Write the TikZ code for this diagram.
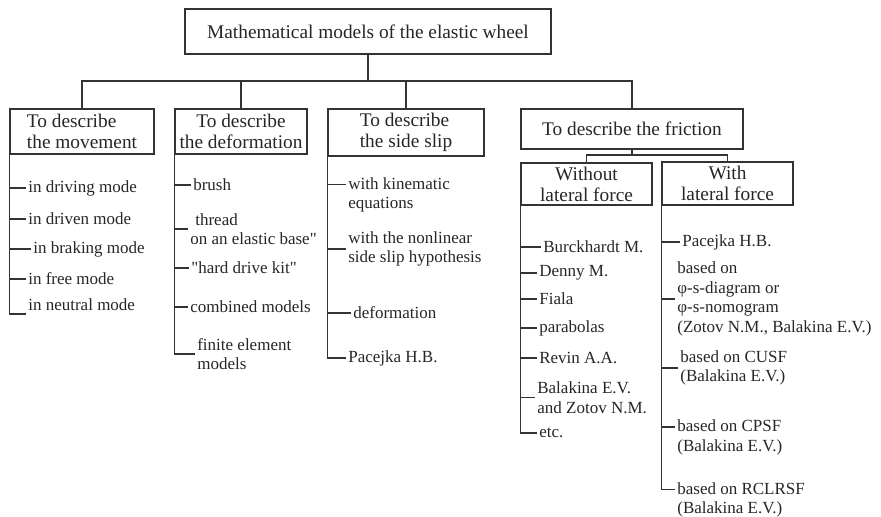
\documentclass[tikz,border=0pt]{standalone}
\usepackage{fontspec}
\setmainfont{Liberation Serif}[Ligatures=TeXOff]
\usetikzlibrary{calc}

\tikzset{
  ln/.style={draw=black!80, line width=0.9pt},
  hdbox/.style={draw=black!80, line width=0.9pt, align=center, inner sep=0pt,
    font=\fontsize{11.6}{12.6}\selectfont},
  itm/.style={anchor=west, align=left, inner sep=1.5pt,
    font=\fontsize{10.2}{11.7}\selectfont}
}

\begin{document}
\begin{tikzpicture}[x=0.6pt, y=-0.6pt, text=black!85]
    \useasboundingbox (0,0) rectangle (881,516);

    % Top box and first level
    \node[hdbox, minimum width=219.6pt, minimum height=27pt] (title) at (368,31.5) {Mathematical models of the elastic wheel};
    \node[hdbox, align=left, minimum width=86.4pt, minimum height=27pt] (move) at (82,131.5) {To describe\\the movement};
    \node[hdbox, minimum width=79.2pt, minimum height=27pt] (deform) at (241,131.5) {To describe\\the deformation};
    \node[hdbox, align=left, minimum width=93.6pt, minimum height=28.2pt] (side) at (406,132.5) {To describe\\the side slip};
    \node[hdbox, minimum width=133.2pt, minimum height=24pt] (fric) at (632,129) {To describe the friction};

    % Friction split
    \node[hdbox, minimum width=78.6pt, minimum height=25.2pt] (without) at (586.5,184) {Without\\lateral force};
    \node[hdbox, minimum width=78.6pt, minimum height=25.8pt] (with) at (727.5,183.5) {With\\lateral force};

    % Tree lines
    \coordinate (jn) at (368,81);
    \draw[ln] (title.south) -- (jn);
    \draw[ln] (move.north) |- (jn) -| (fric.north);
    \draw[ln] (deform.north) -- (deform.north |- jn);
    \draw[ln] (side.north) -- (side.north |- jn);
    \coordinate (fj) at (632,155);
    \draw[ln] (fric.south) -- (fj);
    \draw[ln] (without.north) |- (fj) -| (with.north);

    % Movement
    \node[itm] (m1) at (25.5,188) {in driving mode};
    \node[itm] (m2) at (25.5,219) {in driven mode};
    \node[itm] (m3) at (30.5,249) {in braking mode};
    \node[itm] (m4) at (25.5,279) {in free mode};
    \node[itm] (m5) at (25.5,305) {in neutral mode};
    \draw[ln] (move.south west) |- (m5.south west);
    \foreach \n in {m1,m2,m3,m4}
        \draw[ln] (move.south west |- \n.west) -- (\n.west);

    % Deformation
    \node[itm] (d1) at (190.5,185) {brush};
    \node[itm] (d2) at (187.5,229) {\hspace{3pt}thread\\on an elastic base"};
    \node[itm] (d3) at (188.5,268) {"hard drive kit"};
    \node[itm] (d4) at (187.5,307) {combined models};
    \node[itm] (d5) at (194.5,354) {finite element\\models};
    \draw[ln] (deform.south west) |- (d5.west);
    \foreach \n in {d1,d2,d3,d4}
        \draw[ln] (deform.south west |- \n.west) -- (\n.west);

    % Side slip
    \node[itm] (s1) at (345.5,195) {with kinematic\\equations};
    \node[itm] (s2) at (345.5,249) {with the nonlinear\\side slip hypothesis};
    \node[itm] (s3) at (350.5,313) {deformation};
    \node[itm] (s4) at (345.5,358) {Pacejka H.B.};
    \coordinate (s1t) at ($(s1.north west)+(0,10)$);
    \draw[ln] (side.south west) |- (s4.west);
    \draw[ln] (side.south west |- s1t) -- (s1t);
    \foreach \n in {s2,s3}
        \draw[ln] (side.south west |- \n.west) -- (\n.west);

    % Without lateral force
    \node[itm] (w1) at (540.5,247) {Burckhardt M.};
    \node[itm] (w2) at (536.5,273) {Denny M.};
    \node[itm] (w3) at (536.5,299) {Fiala};
    \node[itm] (w4) at (536.5,328) {parabolas};
    \node[itm] (w5) at (536.5,358) {Revin A.A.};
    \node[itm] (w6) at (534.5,397.5) {Balakina E.V.\\and Zotov N.M.};
    \node[itm] (w7) at (536.5,433) {etc.};
    \draw[ln] (without.south west) |- (w7.west);
    \foreach \n in {w1,w2,w3,w4,w5,w6}
        \draw[ln] (without.south west |- \n.west) -- (\n.west);

    % With lateral force
    \node[itm] (l1) at (679.5,242) {Pacejka H.B.};
    \node[itm] (l2) at (674.5,299) {based on\\φ-s-diagram or\\φ-s-nomogram\\(Zotov N.M., Balakina E.V.)};
    \node[itm] (l3) at (677.5,368) {based on CUSF\\(Balakina E.V.)};
    \node[itm] (l4) at (674.5,437.5) {based on CPSF\\(Balakina E.V.)};
    \node[itm] (l5) at (674.5,500) {based on RCLRSF\\(Balakina E.V.)};
    \coordinate (l4t) at ($(l4.north west)+(0,10)$);
    \coordinate (l5t) at ($(l5.north west)+(0,10)$);
    \draw[ln] (with.south west) |- (l5t);
    \draw[ln] (with.south west |- l4t) -- (l4t);
    \foreach \n in {l1,l2,l3}
        \draw[ln] (with.south west |- \n.west) -- (\n.west);
\end{tikzpicture}
\end{document}
